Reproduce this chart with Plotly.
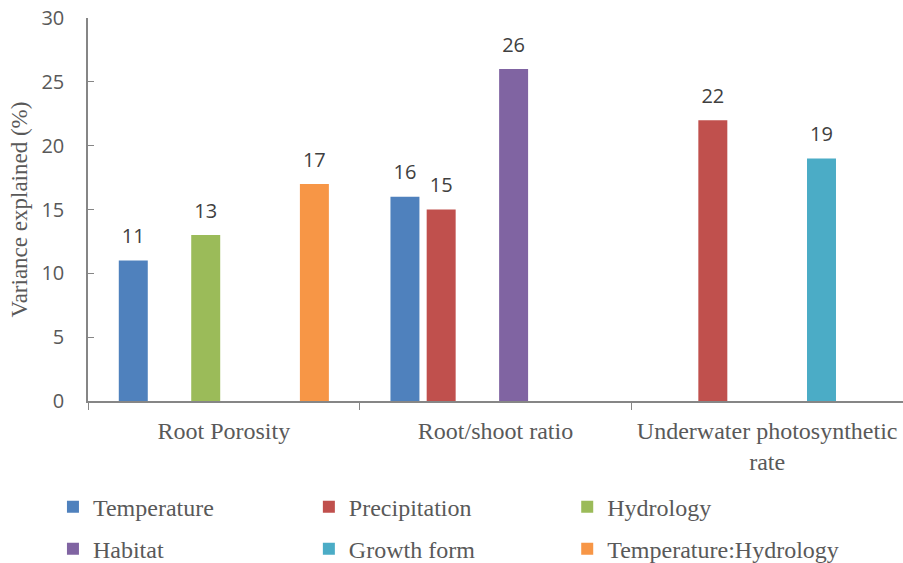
import plotly.graph_objects as go

categories = ["Root Porosity", "Root/shoot ratio", "Underwater photosynthetic<br>rate"]
series_names = ["Temperature", "Precipitation", "Hydrology", "Habitat", "Growth form", "Temperature:Hydrology"]
temperature = [11, 16, None]
precipitation = [None, 15, 22]
hydrology = [13, None, None]
habitat = [None, 26, None]
growth_form = [None, None, 19]
temp_hydrology = [17, None, None]
y_ticks = [0, 5, 10, 15, 20, 25, 30]

values = [temperature, precipitation, hydrology, habitat, growth_form, temp_hydrology]
colors = ["#4F81BD", "#C0504D", "#9BBB59", "#8064A2", "#4BACC6", "#F79646"]

SERIF = "Liberation Serif, Times New Roman, serif"
SANS = "Open Sans, Calibri, sans-serif"

# legend placement: (x, y) in paper coordinates for each series (3 columns x 2 rows)
legend_pos = [(-0.043, -0.277), (0.271, -0.277), (0.588, -0.277),
              (-0.043, -0.387), (0.271, -0.387), (0.588, -0.387)]

fig = go.Figure()
for i, (name, vals, col) in enumerate(zip(series_names, values, colors)):
    lg = "legend" if i == 0 else f"legend{i+1}"
    fig.add_trace(go.Bar(
        x=categories, y=vals, name=name,
        marker=dict(color=col, line=dict(width=0)),
        legend=lg,
    ))
# value labels above the bars, grouped the same way as the bars
for i, (name, vals) in enumerate(zip(series_names, values)):
    fig.add_trace(go.Scatter(
        x=categories, y=vals, mode="markers+text",
        text=[("" if v is None else str(v)) for v in vals],
        textposition="top center",
        textfont=dict(family=SANS, size=20, color="#404040"),
        marker=dict(size=18, opacity=0),
        showlegend=False, hoverinfo="skip", cliponaxis=False,
    ))

layout_legends = {}
for i, (lx, ly) in enumerate(legend_pos):
    key = "legend" if i == 0 else f"legend{i+1}"
    layout_legends[key] = dict(
        orientation="v", xanchor="left", yanchor="middle", x=lx, y=ly,
        itemwidth=30,
        font=dict(family=SERIF, size=24, color="#595959"),
        bgcolor="rgba(0,0,0,0)",
    )

fig.update_layout(
    width=903, height=563,
    margin=dict(l=88, r=0, t=18, b=162, autoexpand=False),
    paper_bgcolor="white", plot_bgcolor="white",
    barmode="group", bargap=0.2, bargroupgap=0.2,
    scattermode="group", scattergap=0.2,
    showlegend=True,
    **layout_legends,
    xaxis=dict(
        type="category", tickson="boundaries", ticks="outside", ticklen=7,
        tickcolor="#868686", showline=True, linecolor="#868686", linewidth=1.5,
        tickfont=dict(family=SERIF, size=24, color="#595959"),
        ticklabelstandoff=7,
        showgrid=False, automargin=False,
    ),
    yaxis=dict(
        range=[0, 30], tickvals=y_ticks, ticks="inside", ticklen=6,
        tickcolor="#868686", showline=True, linecolor="#868686", linewidth=1.5,
        tickfont=dict(family=SANS, size=20, color="#595959"),
        ticklabelstandoff=18,
        showgrid=False, zeroline=False, automargin=False,
        title=dict(text="Variance explained (%)", font=dict(family=SERIF, size=23, color="#595959"), standoff=7),
    ),
)

fig.write_html("out.html", config={"displayModeBar": False},
               post_script="document.body.style.margin='0';document.body.style.overflow='hidden';")
